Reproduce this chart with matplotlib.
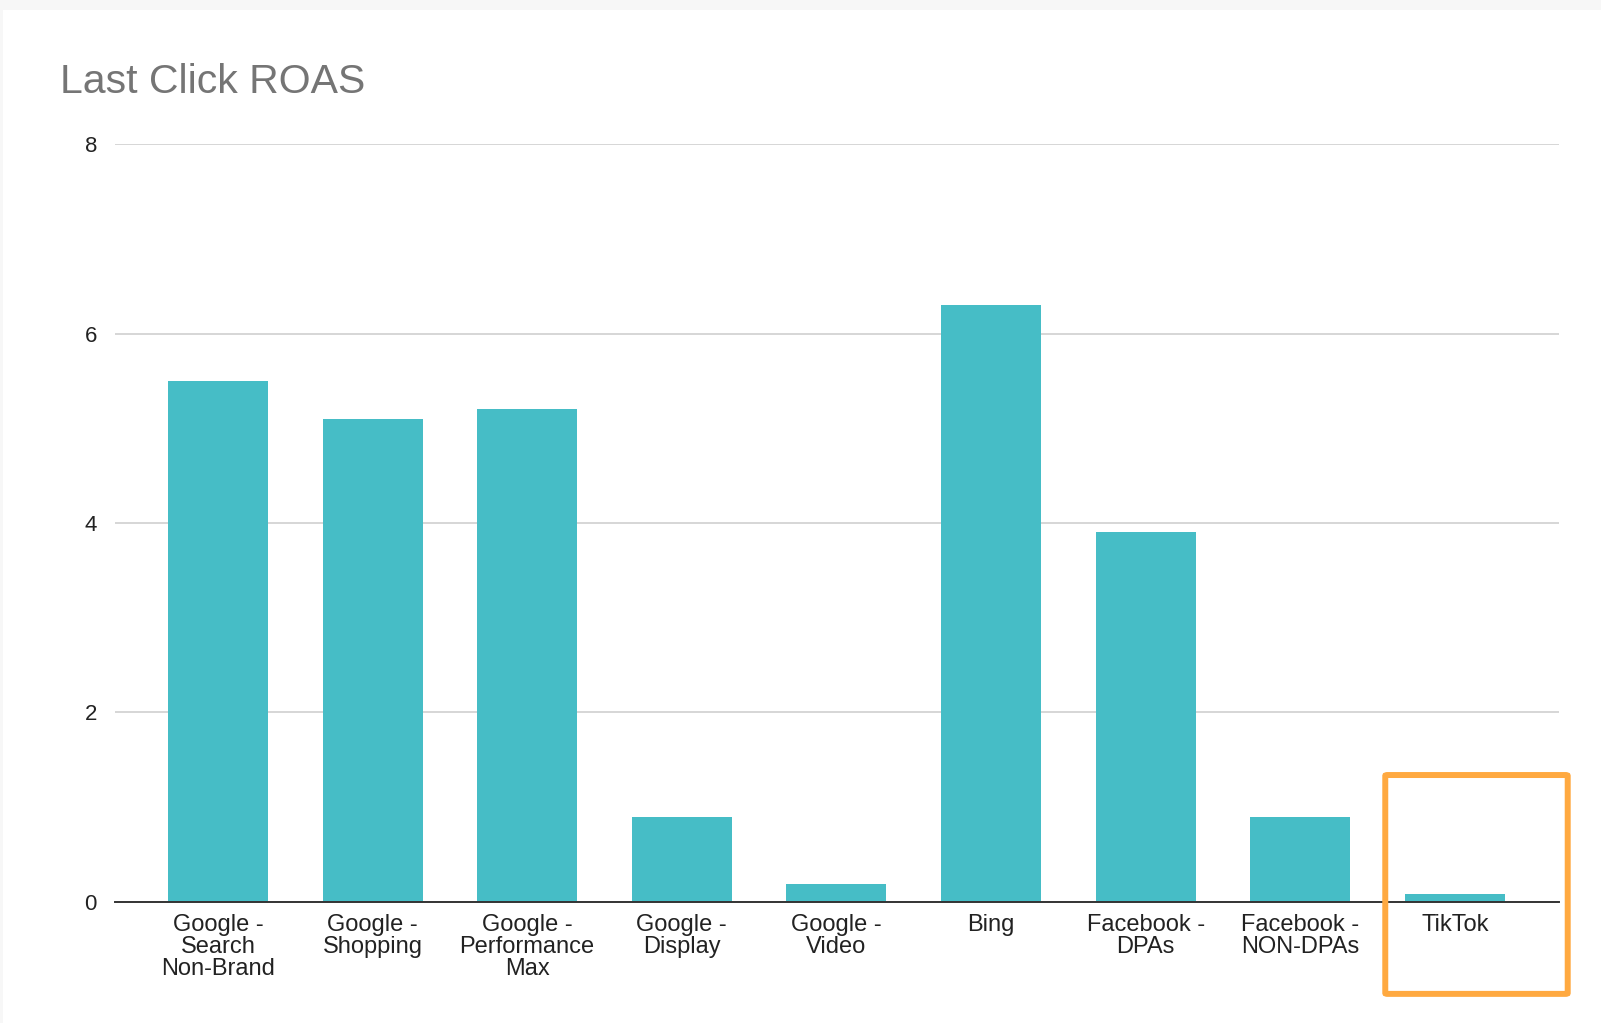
import matplotlib.pyplot as plt
from matplotlib.patches import Rectangle, FancyBboxPatch

categories = [
    "Google -\nSearch\nNon-Brand",
    "Google -\nShopping",
    "Google -\nPerformance\nMax",
    "Google -\nDisplay",
    "Google -\nVideo",
    "Bing",
    "Facebook -\nDPAs",
    "Facebook -\nNON-DPAs",
    "TikTok",
]
roas = [5.5, 5.1, 5.2, 0.9, 0.19, 6.3, 3.9, 0.9, 0.08]
y_ticks = [0, 2, 4, 6, 8]
highlight = "TikTok"

plt.rcParams["font.family"] = ["Liberation Sans", "DejaVu Sans"]

fig = plt.figure(figsize=(16.01, 10.23), dpi=100)
fig.patch.set_facecolor("#f7f7f7")
# white card behind the chart
fig.patches.append(Rectangle((3 / 1601, 0), 1, 1 - 10 / 1023, transform=fig.transFigure,
                             facecolor="white", edgecolor="none", zorder=-5))

ax = fig.add_axes([0.0718, 0.1183, 0.902, 0.7409])
ax.set_facecolor("none")

x = list(range(len(categories)))
ax.bar(x, roas, width=0.647, color="#46bdc6", zorder=3)

ax.set_xlim(-0.666, 8.674)
ax.set_ylim(0, 8)
ax.set_yticks(y_ticks)
ax.set_yticklabels([str(t) for t in y_ticks], fontsize=16, color="#222222")
ax.set_xticks(x)
ax.set_xticklabels(categories, fontsize=17, color="#222222", linespacing=1.0)
ax.tick_params(axis="both", length=0)
ax.tick_params(axis="y", pad=13)
ax.tick_params(axis="x", pad=9)

ax.grid(axis="y", color="#cccccc", linewidth=1.1, zorder=0)
for side in ["top", "right", "left"]:
    ax.spines[side].set_visible(False)
ax.spines["bottom"].set_color("#333333")
ax.spines["bottom"].set_linewidth(1.4)
ax.spines["bottom"].set_zorder(4)

fig.text(60 / 1601, 1 - 82 / 1023, "Last Click ROAS", fontsize=29.5, color="#757575",
         ha="left", va="center")

# orange highlight box around TikTok
i = categories.index(highlight)
box = FancyBboxPatch((i - 0.45, -0.97), 1.18, 2.31, boxstyle="round,pad=0,rounding_size=0.015",
                     transform=ax.transData, facecolor="none", edgecolor="#ffa940",
                     linewidth=4.3, clip_on=False, zorder=5, mutation_aspect=0.6)
ax.add_patch(box)

fig.savefig("out.png", dpi=100)
